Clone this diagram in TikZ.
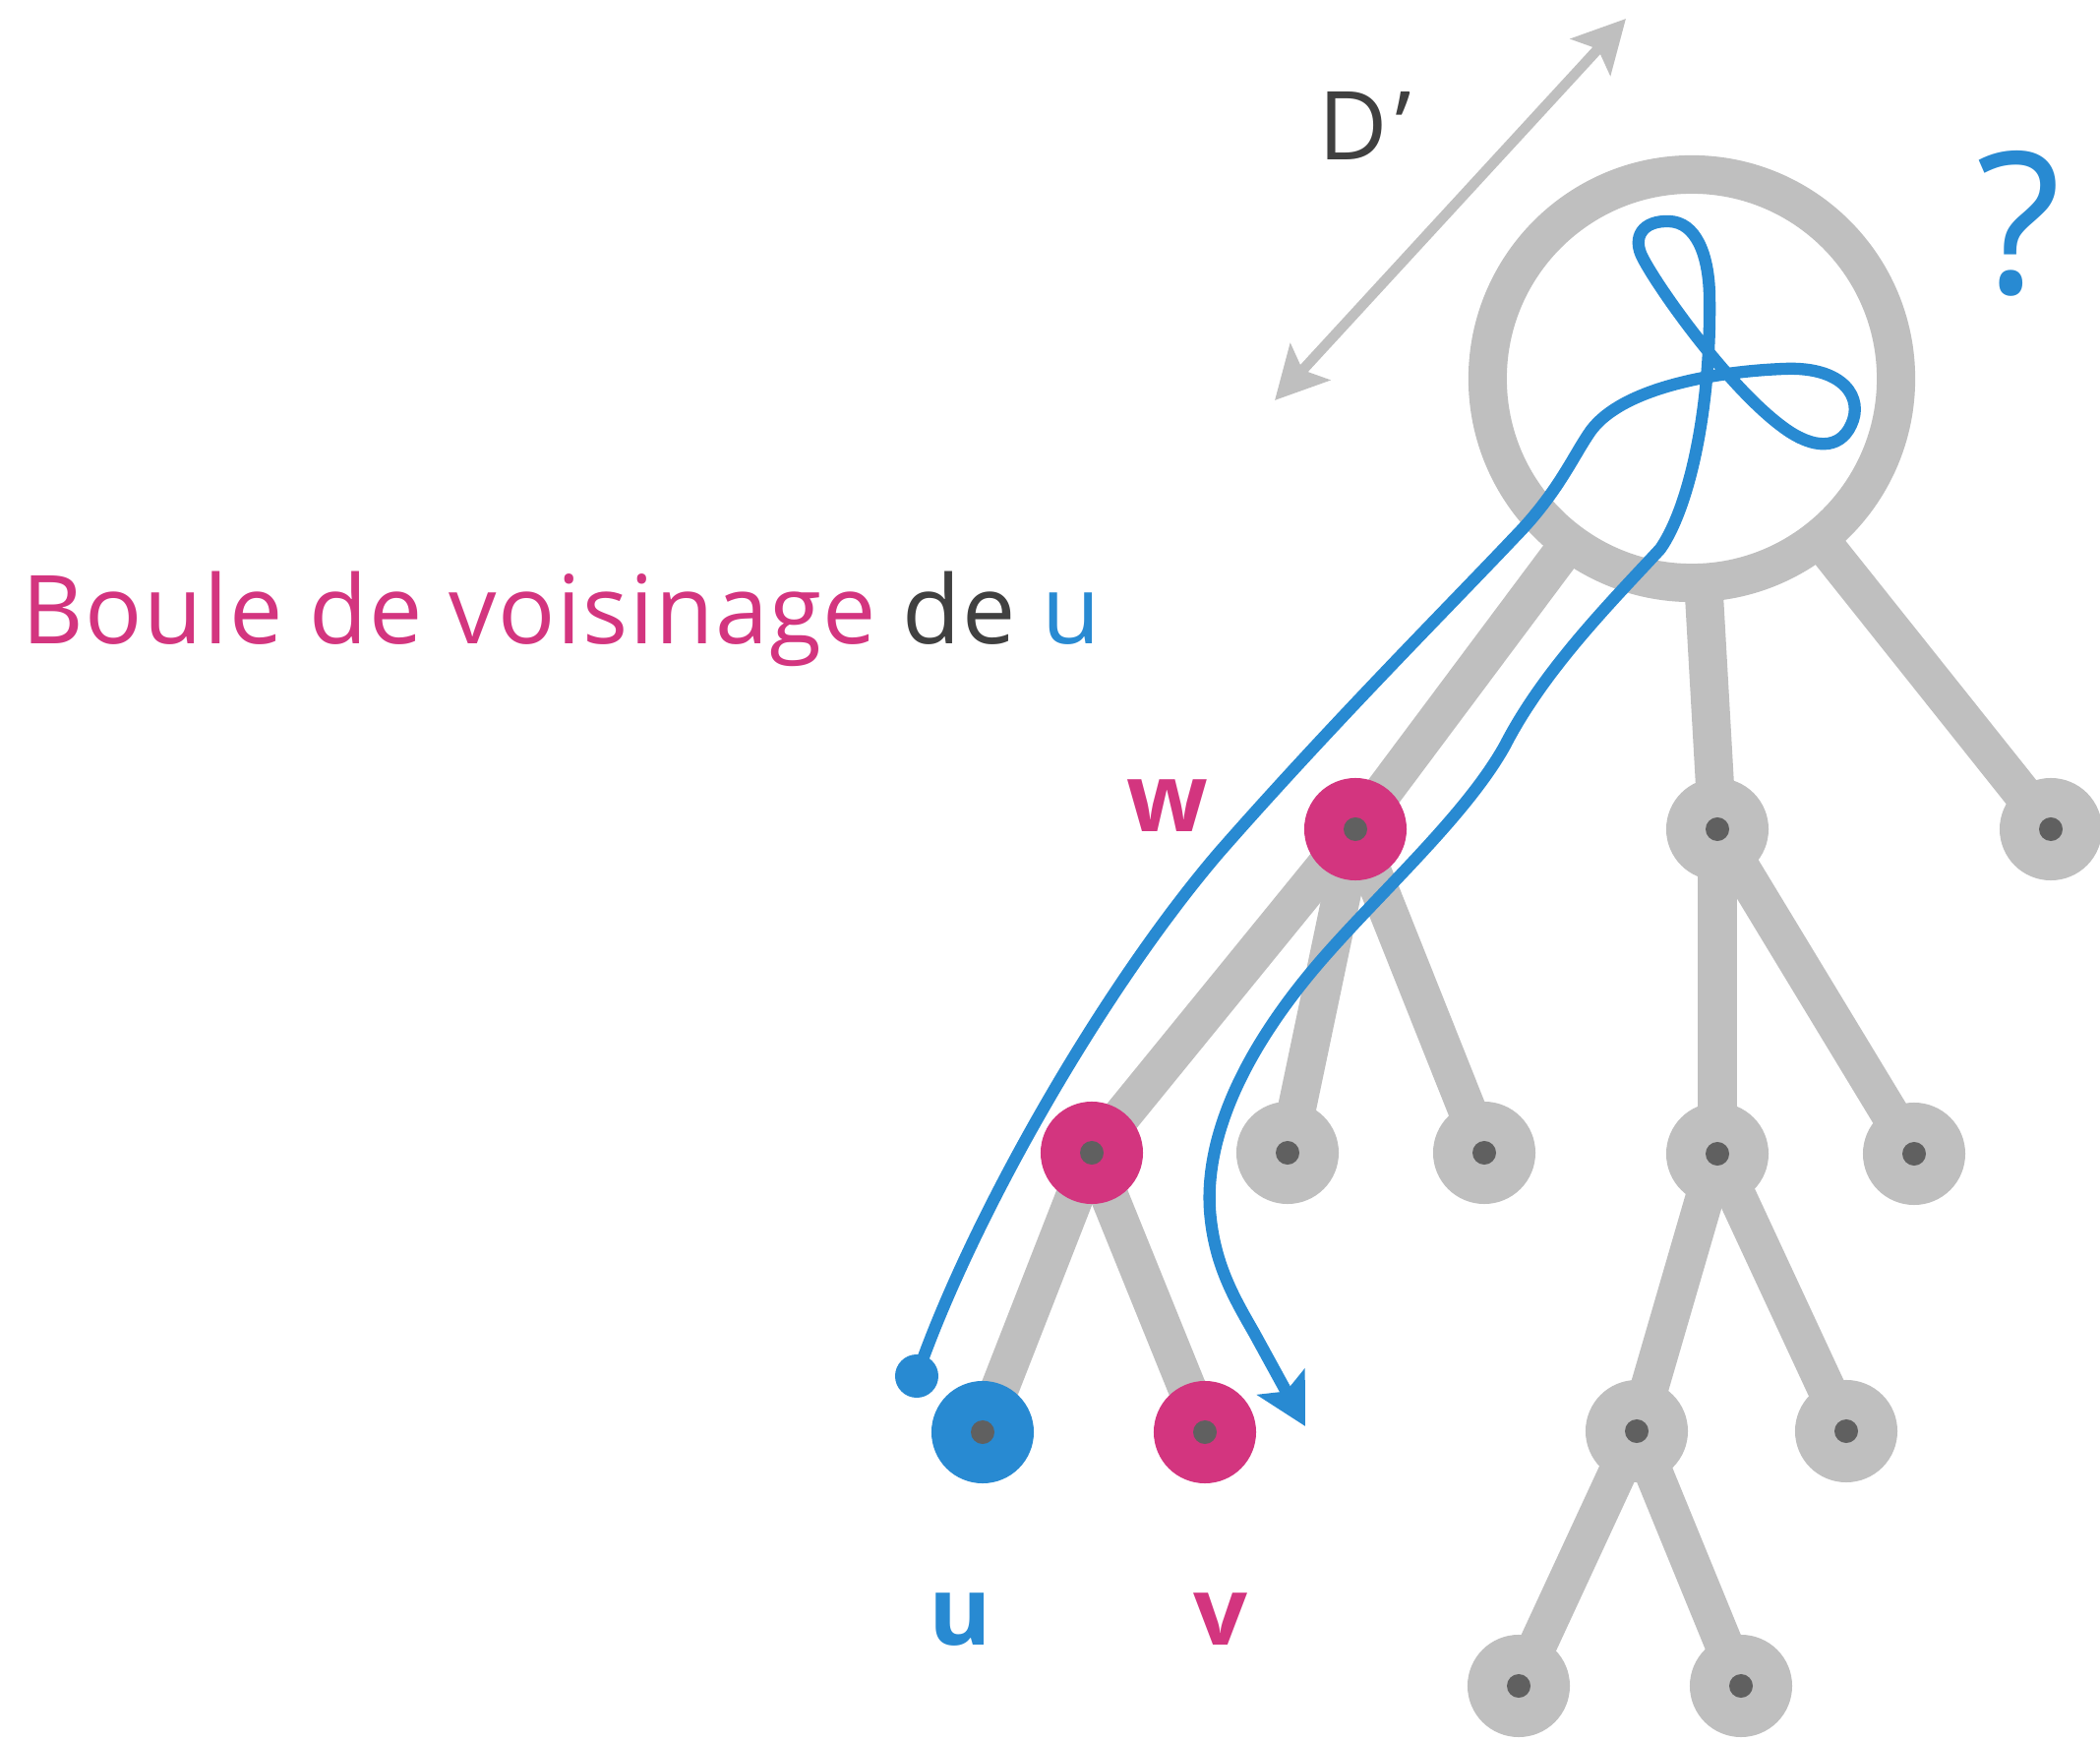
\documentclass[tikz,border=0pt]{standalone}
\usepackage{fontspec}
\setmainfont{Open Sans}
\newfontfamily\boulefont[LetterSpace=1.6]{Open Sans}
\usetikzlibrary{arrows.meta,backgrounds}

\definecolor{rose}{RGB}{211,53,127}
\definecolor{bleu}{RGB}{40,138,210}
\definecolor{gris}{RGB}{191,191,191}
\definecolor{grisfonce}{RGB}{96,96,96}
\definecolor{encre}{RGB}{64,64,64}

\begin{document}
\begin{tikzpicture}[x=0.01cm, y=-0.01cm,
  font=\fontsize{27.5}{33}\selectfont,
  sommet/.style={circle, fill=#1, minimum size=1.04cm, inner sep=0pt,
    path picture={\fill[grisfonce] (path picture bounding box.center) circle (0.12cm);}},
  sommet/.default=gris,
  arete/.style={gris, line width=11.1pt},
  chemin/.style={bleu, line width=3.5pt, line cap=round, line join=round},
  etiq/.style={inner sep=0pt, anchor=base, font=\fontsize{27.5}{33}\selectfont\bfseries}]
  \useasboundingbox (0,0) rectangle (2135,1770);

  \node[circle, draw=gris, line width=11.1pt, fill=white, minimum size=4.15cm, inner sep=0pt] (boule) at (1720,385) {};

  \node[sommet=rose] (w) at (1378,843) {};
  \node[sommet] (a) at (1746,843) {};
  \node[sommet] (b) at (2085,843) {};
  \node[sommet=rose] (x) at (1110,1172) {};
  \node[sommet] (c) at (1309,1172) {};
  \node[sommet] (d) at (1509,1172) {};
  \node[sommet] (e) at (1746,1173) {};
  \node[sommet] (f) at (1946,1173) {};
  \node[sommet=bleu] (u) at (999,1456) {};
  \node[sommet=rose] (v) at (1225,1456) {};
  \node[sommet] (g) at (1664,1455) {};
  \node[sommet] (h) at (1877,1455) {};
  \node[sommet] (i) at (1544,1714) {};
  \node[sommet] (j) at (1770,1714) {};

  \begin{scope}[on background layer]
    \foreach \p/\q in {boule/w, boule/a, boule/b, w/x, w/c, w/d, x/u, x/v,
                       a/e, a/f, e/g, e/h, g/i, g/j}
      \draw[arete] (\p.center) -- (\q.center);
  \end{scope}

  \coordinate (dbas) at (1296,407);
  \coordinate (dhaut) at (1653,19);
  \draw[gris, line width=3pt,
    {Stealth[length=15pt,width=15.4pt,inset=3.1pt]}-{Stealth[length=15pt,width=15.4pt,inset=3.1pt]}]
    (dbas) -- (dhaut);

  \node[anchor=base west, inner sep=0pt, font=\fontsize{27.5}{33}\boulefont] (titre) at (22,655)
    {\color{rose}Boule de voisinage \color{encre}de \color{bleu}u};
  \node[anchor=base west, inner sep=0pt, text=encre] (dprime) at (1340,163) {D\kern0.08em’};
  \node[anchor=base, inner sep=0pt, text=bleu, font=\fontsize{57}{60}\selectfont] (question) at (2053,299) {?};
  \node[etiq, text=rose] (lw) at (1187,846) {w};
  \node[etiq, text=bleu] (lu) at (976,1672) {u};
  \node[etiq, text=rose] (lv) at (1241,1672) {v};

  \node[circle, fill=bleu, minimum size=0.44cm, inner sep=0pt] (depart) at (932,1399) {};
  \coordinate (fin) at (1327,1450);
  \draw[chemin, -{Stealth[length=14.5pt,width=15.4pt,inset=3pt]}]
    (depart.center) .. controls (990,1232) and (1125,1000) .. (1240,866)
    .. controls (1355,735) and (1470,620) .. (1540,546)
    .. controls (1585,500) and (1600,462) .. (1618,437)
    .. controls (1650,395) and (1740,378) .. (1813,375)
    .. controls (1875,372) and (1895,405) .. (1882,432)
    .. controls (1870,458) and (1843,456) .. (1815,436)
    .. controls (1760,397) and (1687,295) .. (1670,262)
    .. controls (1659,241) and (1670,224) .. (1697,225)
    .. controls (1724,226) and (1737,258) .. (1738,300)
    .. controls (1740,420) and (1716,518) .. (1688,558)
    .. controls (1640,610) and (1570,680) .. (1530,758)
    .. controls (1490,830) and (1400,910) .. (1340,980)
    .. controls (1270,1062) and (1225,1150) .. (1230,1230)
    .. controls (1234,1285) and (1255,1320) .. (1275,1355)
    -- (fin);
\end{tikzpicture}
\end{document}
